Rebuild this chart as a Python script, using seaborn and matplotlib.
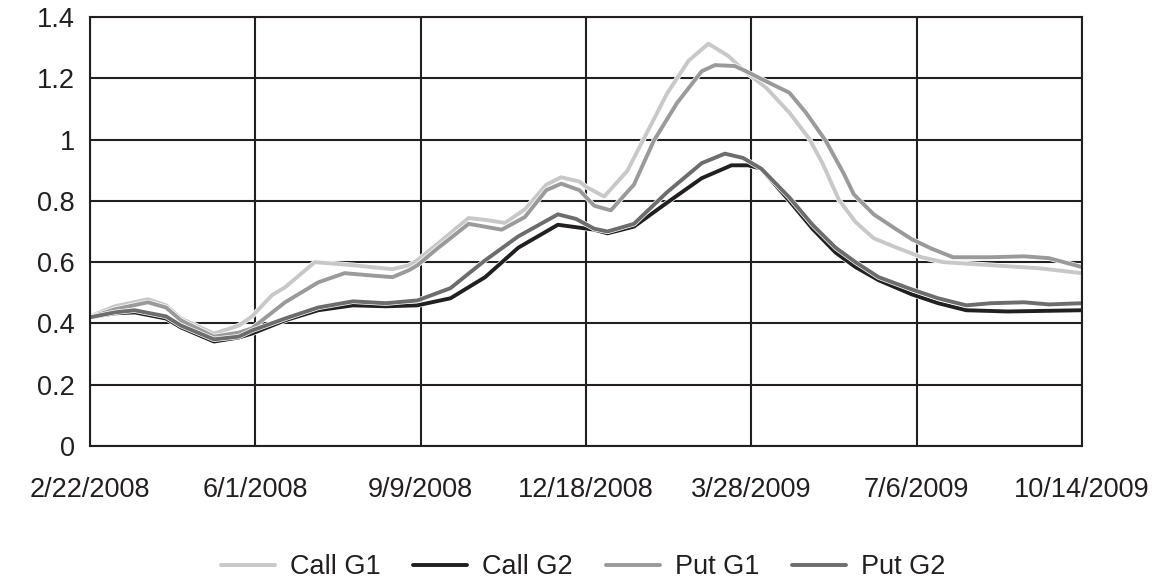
import matplotlib
matplotlib.use("Agg")
import matplotlib.pyplot as plt
import matplotlib.patheffects as pe
import numpy as np
import pandas as pd
import seaborn as sns

START = "2008-02-22"

call_g1_days = [0, 15, 35, 46, 55, 75, 90, 98, 110, 118, 136, 159, 183, 193, 198, 210, 229, 239, 251, 263,
                276, 285, 296, 300, 311, 325, 335, 349, 362, 374, 386, 396, 409, 423, 435, 443, 453, 463,
                474, 488, 503, 516, 545, 574, 600]
call_g1 = [0.423, 0.456, 0.479, 0.459, 0.416, 0.367, 0.393, 0.423, 0.492, 0.518, 0.600, 0.590, 0.577, 0.590,
           0.606, 0.659, 0.744, 0.738, 0.728, 0.772, 0.853, 0.877, 0.863, 0.846, 0.814, 0.898, 1.003, 1.150,
           1.257, 1.313, 1.273, 1.223, 1.169, 1.088, 1.003, 0.923, 0.803, 0.731, 0.678, 0.647, 0.616, 0.600,
           0.590, 0.580, 0.564]

call_g2_days = [0, 15, 27, 46, 55, 75, 90, 98, 118, 138, 159, 179, 198, 218, 239, 259, 283, 305, 313, 329,
                349, 370, 388, 398, 406, 423, 437, 451, 463, 477, 497, 513, 530, 555, 600]
call_g2 = [0.420, 0.433, 0.436, 0.416, 0.387, 0.341, 0.354, 0.367, 0.410, 0.443, 0.459, 0.456, 0.459, 0.482,
           0.551, 0.647, 0.722, 0.706, 0.694, 0.716, 0.794, 0.874, 0.916, 0.916, 0.905, 0.800, 0.709, 0.631,
           0.584, 0.541, 0.495, 0.466, 0.443, 0.439, 0.443]

put_g1_days = [0, 15, 35, 46, 55, 75, 90, 98, 118, 138, 154, 169, 183, 193, 198, 210, 229, 249, 263, 276,
               285, 296, 305, 315, 329, 341, 355, 370, 378, 390, 396, 409, 423, 433, 445, 456, 462, 474,
               488, 497, 509, 522, 545, 565, 580, 600]
put_g1 = [0.420, 0.446, 0.469, 0.452, 0.410, 0.357, 0.370, 0.384, 0.469, 0.534, 0.564, 0.557, 0.551, 0.574,
          0.590, 0.644, 0.725, 0.706, 0.747, 0.835, 0.856, 0.835, 0.784, 0.769, 0.853, 0.996, 1.119, 1.223,
          1.243, 1.240, 1.225, 1.190, 1.153, 1.088, 0.996, 0.888, 0.821, 0.756, 0.706, 0.675, 0.644, 0.616,
          0.616, 0.619, 0.613, 0.584]

put_g2_days = [0, 15, 27, 46, 55, 75, 90, 98, 118, 138, 159, 179, 198, 218, 239, 259, 283, 294, 305, 313,
               329, 349, 370, 384, 395, 406, 423, 437, 451, 463, 477, 497, 513, 530, 545, 565, 580, 600]
put_g2 = [0.420, 0.436, 0.443, 0.423, 0.393, 0.348, 0.357, 0.377, 0.416, 0.452, 0.472, 0.466, 0.475, 0.515,
          0.606, 0.684, 0.756, 0.741, 0.709, 0.700, 0.725, 0.828, 0.923, 0.954, 0.940, 0.905, 0.811, 0.722,
          0.647, 0.600, 0.551, 0.511, 0.482, 0.459, 0.466, 0.469, 0.462, 0.466]

series_names = ["Call G1", "Call G2", "Put G1", "Put G2"]
series_colors = ["#c8c8c8", "#231f20", "#9a9a9a", "#6d6d6d"]

tick_dates = ["2008-02-22", "2008-06-01", "2008-09-09", "2008-12-18", "2009-03-28", "2009-07-06", "2009-10-14"]
tick_labels = ["2/22/2008", "6/1/2008", "9/9/2008", "12/18/2008", "3/28/2009", "7/6/2009", "10/14/2009"]
y_ticks = [0, 0.2, 0.4, 0.6, 0.8, 1.0, 1.2, 1.4]
y_labels = ["0", "0.2", "0.4", "0.6", "0.8", "1", "1.2", "1.4"]

# ---- build tidy frame ----
frames = []
for name, days, vals in [("Call G1", call_g1_days, call_g1), ("Call G2", call_g2_days, call_g2),
                         ("Put G1", put_g1_days, put_g1), ("Put G2", put_g2_days, put_g2)]:
    frames.append(pd.DataFrame({
        "date": pd.Timestamp(START) + pd.to_timedelta(days, unit="D"),
        "value": vals,
        "series": name,
    }))
df = pd.concat(frames, ignore_index=True)

sns.set_theme(style="white")
plt.rcParams["font.family"] = ["Liberation Sans", "DejaVu Sans"]
INK = "#231f20"
FS = 19.5

fig = plt.figure(figsize=(11.66, 5.82), dpi=100)
ax = fig.add_axes([90 / 1166, 1 - 446 / 582, 992 / 1166, 429 / 582])

sns.lineplot(data=df, x="date", y="value", hue="series", hue_order=series_names,
             palette=dict(zip(series_names, series_colors)), linewidth=2.8,
             estimator=None, sort=True, ax=ax)

for line in ax.get_lines():
    line.set_path_effects([pe.Stroke(linewidth=3.8, foreground="white"), pe.Normal()])
    line.set_solid_capstyle("round")
    line.set_solid_joinstyle("round")

tdates = pd.to_datetime(tick_dates)
ax.set_xlim(tdates[0], tdates[-1])
ax.set_ylim(0, 1.4)
ax.set_xticks(tdates)
ax.set_xticklabels(tick_labels)
ax.set_yticks(y_ticks)
ax.set_yticklabels(y_labels)
ax.set_xlabel("")
ax.set_ylabel("")

ax.grid(True, color=INK, linewidth=1.5)
ax.set_axisbelow(True)
for sp in ax.spines.values():
    sp.set_visible(True)
    sp.set_color(INK)
    sp.set_linewidth(1.5)

ax.tick_params(axis="both", length=0, labelsize=FS, labelcolor=INK)
ax.tick_params(axis="x", pad=22)
ax.tick_params(axis="y", pad=11)

handles, labels = ax.get_legend_handles_labels()
ax.get_legend().remove()
fig.legend(handles, labels, loc="center", bbox_to_anchor=(0.5, 1 - 567 / 582), ncol=4,
           frameon=False, fontsize=FS, handlelength=2.0, handletextpad=0.55,
           columnspacing=1.2, labelcolor=INK)

fig.savefig("out.png", dpi=100)
